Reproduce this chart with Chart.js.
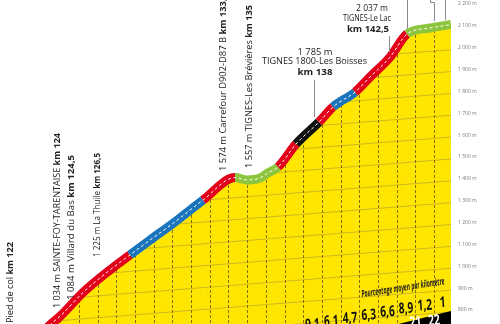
<!DOCTYPE html>
<html><head><meta charset="utf-8">
<script src="https://cdn.jsdelivr.net/npm/chart.js@4.4.1/dist/chart.umd.min.js"></script>
<style>html,body{margin:0;padding:0;background:#fff;}#wrap{width:500px;height:324px;position:relative;}</style>
</head><body><div id="wrap"><canvas id="c" width="500" height="324"></canvas></div>
<script>
// ---- data ----
const kmValues  = [122.0, 123.56, 124.0, 125.22, 126.66, 127.73, 128.8, 129.98, 131.64, 133.35, 133.99, 134.69, 135.11, 135.65, 136.61, 137.84, 138.59, 139.77, 140.57, 141.64, 142.55, 143.78, 144.9];
const altitudes = [603, 740, 772, 880, 983, 1052, 1120, 1193, 1303, 1406, 1395, 1404, 1427, 1454, 1559, 1660, 1729, 1797, 1866, 1957, 2063, 2090, 2106];
const yTickValues = [800, 900, 1000, 1100, 1200, 1300, 1400, 1500, 1600, 1700, 1800, 1900, 2000, 2100, 2200];
const gridKms = [123,124,125,126,127,128,129,130,131,132,133,134,135,136,137,138,139,140,141,142,143,144];
const pctKms    = [137, 138, 139, 140, 141, 142, 143, 144];
const pctValues = [9.1, 6.1, 4.7, 6.3, 6.6, 8.9, 1.2, 1];
const climbKmKms    = [143, 144];
const climbKmLabels = ['21', '22'];
const bandStartKms = [122, 127.73, 131.64, 133.35, 135.65, 136.61, 137.84, 138.59, 139.77, 142.55];

// ---- styles ----
const RED='#e2001a', BLUE='#1b75bc', GREEN='#8cc63f', BLACK='#111111', YELLOW='#ffe600';
const bandColors = [RED, BLUE, RED, GREEN, RED, BLACK, RED, BLUE, RED, GREEN];
const SLANT = 0.078;
const FONT = "'Open Sans', 'Noto Sans', sans-serif";

function segColor(c){
  const x0 = c.p0.parsed.x;
  let col = bandColors[0];
  for (let i=0;i<bandStartKms.length;i++) if (x0 >= bandStartKms[i]-1e-6) col = bandColors[i];
  return col;
}
function fmtAlt(v){ return String(v).replace(/\B(?=(\d{3})+(?!\d))/g,' '); }
function fmtPct(v){ return Number.isInteger(v) ? String(v) : v.toFixed(1).replace('.',','); }

const pts = kmValues.map((k,i)=>({x:k, y:altitudes[i]}));

function drawRich(ctx, parts, x, y, rot, size, targetLen, align, style){
  ctx.save();
  ctx.translate(x,y); ctx.rotate(rot);
  const pre = style || '';
  let w=0; const ws=[];
  for (const [t,b] of parts){ ctx.font=pre+(b?'bold ':'')+size+'px '+FONT; const m=ctx.measureText(t).width; ws.push(m); w+=m; }
  const s = targetLen ? targetLen/w : 1;
  ctx.scale(s,1);
  let cx = align==='center' ? -w/2 : 0;
  ctx.textBaseline='middle'; ctx.textAlign='left'; ctx.fillStyle='#222';
  parts.forEach(([t,b],i)=>{ ctx.font=pre+(b?'bold ':'')+size+'px '+FONT; ctx.fillText(t,cx,0); cx+=ws[i]; });
  ctx.restore();
}

const profilePlugin = {
  id:'profile',
  beforeDatasetsDraw(chart){
    const {ctx, chartArea:a, scales:{x,y}} = chart;
    const P = chart.getDatasetMeta(0).data;
    ctx.save();
    ctx.beginPath();
    ctx.moveTo(P[0].x, P[0].y);
    for (const p of P) ctx.lineTo(p.x,p.y);
    ctx.lineTo(P[P.length-1].x, a.bottom); ctx.lineTo(P[0].x, a.bottom); ctx.closePath();
    ctx.clip();
    ctx.strokeStyle='rgba(150,135,70,0.6)'; ctx.lineWidth=0.8;
    for (const v of yTickValues){
      const yr = y.getPixelForValue(v)+2;
      ctx.beginPath(); ctx.moveTo(a.right, yr); ctx.lineTo(a.left, yr+(a.right-a.left)*SLANT); ctx.stroke();
    }
    ctx.setLineDash([3,2]); ctx.strokeStyle='rgba(120,100,20,0.9)'; ctx.lineWidth=1;
    for (const k of gridKms){
      const xp = Math.round(x.getPixelForValue(k))+0.5;
      ctx.beginPath(); ctx.moveTo(xp,a.top); ctx.lineTo(xp,a.bottom); ctx.stroke();
    }
    ctx.setLineDash([]);
    ctx.fillStyle='#000';
    ctx.beginPath(); ctx.moveTo(a.right,311); ctx.lineTo(a.right,a.bottom+1); ctx.lineTo(a.right-13/0.23,a.bottom+1); ctx.closePath(); ctx.fill();
    ctx.restore();
  },
  afterDatasetsDraw(chart){
    const {ctx, scales:{x}} = chart;
    ctx.save();
    pctKms.forEach((k,i)=>{
      const xc = x.getPixelForValue(Math.min(k+0.5,(k+x.max)/2));
      const yc = 303 + (441-xc)*0.17;
      ctx.save(); ctx.translate(xc,yc); ctx.rotate(-0.06); ctx.scale(0.68,1);
      ctx.font='bold 15px '+FONT; ctx.fillStyle='#111'; ctx.textAlign='center'; ctx.textBaseline='middle';
      ctx.fillText(fmtPct(pctValues[i]),0,0); ctx.restore();
    });
    climbKmKms.forEach((k,i)=>{
      const xc = x.getPixelForValue(k);
      const yc = 321 + (433-xc)*0.1;
      ctx.save(); ctx.translate(xc,yc); ctx.rotate(-0.1); ctx.scale(0.68,1);
      ctx.font='bold 15px '+FONT; ctx.fillStyle='#fff'; ctx.textAlign='center'; ctx.textBaseline='middle';
      ctx.fillText(climbKmLabels[i],0,0); ctx.restore();
    });
    drawRich(ctx, [['Pourcentage moyen par kilomètre',true]], 403, 288, -0.155, 10, 84, 'center', 'italic ');
    ctx.strokeStyle='#8a8a8a'; ctx.lineWidth=1;
    const L = [[[314.5,80],[314.5,117]], [[389.5,36],[389.5,52]], [[407.5,0],[407.5,29]], [[430.5,0],[430.5,2.5],[434.5,2.5],[434.5,21]], [[445.5,0],[445.5,20]]];
    for (const seg of L){ ctx.beginPath(); ctx.moveTo(seg[0][0],seg[0][1]); for (let i=1;i<seg.length;i++) ctx.lineTo(seg[i][0],seg[i][1]); ctx.stroke(); }
    ctx.restore();
  },
  afterDraw(chart){
    const ctx = chart.ctx;
    const R = -Math.PI/2;
    drawRich(ctx, [['Pied de col ',false],['km 122',true]], 10, 323, R, 9, 81);
    drawRich(ctx, [['1 034 m SAINTE-FOY-TARENTAISE ',false],['km 124',true]], 57, 308, R, 9, 175);
    drawRich(ctx, [['1 084 m Villard du Bas ',false],['km 124,5',true]], 71, 300, R, 9, 145);
    drawRich(ctx, [['1 225 m La Thuile ',false],['km 126,5',true]], 97, 257, R, 9, 104);
    drawRich(ctx, [['1 574 m Carrefour D902-D87 B ',false],['km 133,5',true]], 223, 171, R, 9, 178);
    drawRich(ctx, [['1 557 m TIGNES-Les Brévières ',false],['km 135',true]], 249, 168, R, 9, 163);
    drawRich(ctx, [['1 785 m',false]], 315, 52, 0, 9, 35, 'center');
    drawRich(ctx, [['TIGNES 1800-Les Boisses',false]], 314.5, 61.5, 0, 9, 105, 'center');
    drawRich(ctx, [['km 138',true]], 315, 72, 0, 9, 35, 'center');
    drawRich(ctx, [['2 037 m',false]], 372, 8, 0, 9, 32, 'center');
    drawRich(ctx, [['TIGNES-Le Lac',false]], 367, 18, 0, 9, 48, 'center');
    drawRich(ctx, [['km 142,5',true]], 368, 29, 0, 9, 42, 'center');
  }
};

new Chart(document.getElementById('c'), {
  type:'line',
  data:{ datasets:[
    { data: pts, order: 1, borderColor: RED, borderWidth: 9, fill:'start', backgroundColor: YELLOW,
      pointRadius:0, cubicInterpolationMode:'monotone', borderCapStyle:'butt', borderJoinStyle:'round',
      segment:{ borderColor: segColor } },
    { data: pts, order: 0, borderColor:'#ffffff', borderWidth:1, borderDash:[3,2.5], fill:false,
      pointRadius:0, cubicInterpolationMode:'monotone' }
  ]},
  options:{
    responsive:false, animation:false, events:[],
    layout:{padding:0},
    plugins:{ legend:{display:false}, tooltip:{enabled:false}, filler:{drawTime:'beforeDatasetsDraw'} },
    scales:{
      x:{ type:'linear', min:120.78, max:144.9, display:false },
      y:{ type:'linear', position:'right', min:735.9, max:2218.3,
          afterBuildTicks: s => { s.ticks = yTickValues.map(v=>({value:v})); },
          afterFit: s => { s.width = 49; s.paddingTop = 0; s.paddingBottom = 0; },
          grid:{ display:false, drawTicks:false }, border:{ display:false },
          ticks:{ padding:7, color:'#7a7a7a', font:{ size:5, family:'Open Sans' },
                  callback: v => fmtAlt(v)+' m' } }
    }
  },
  plugins:[profilePlugin]
});
</script></body></html>
